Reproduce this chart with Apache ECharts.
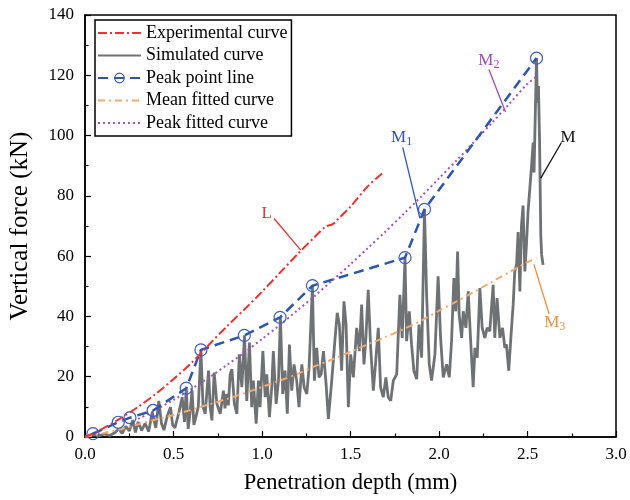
<!DOCTYPE html>
<html>
<head>
<meta charset="utf-8">
<script src="https://cdn.jsdelivr.net/npm/echarts@6/dist/echarts.min.js"></script>
<style>html,body{margin:0;padding:0;background:#fff}#c{width:630px;height:500px}</style>
</head>
<body>
<div id="c"></div>
<script>
// ---- data (mm, kN) ----
const expX = [0, 0.1, 0.2, 0.3, 0.4, 0.5, 0.6, 0.65, 0.7, 0.8, 0.9, 1.0, 1.1, 1.2, 1.3, 1.36, 1.40, 1.43, 1.5, 1.6, 1.69];
const expY = [0, 2.8, 6.2, 10.0, 14.3, 19.2, 24.5, 27.5, 30.6, 36.6, 42.3, 48.2, 54.4, 60.6, 66.5, 69.8, 70.6, 72.3, 76.4, 83.3, 88.0];

const simX = [0, 0.02, 0.05, 0.08, 0.11, 0.14, 0.17, 0.19, 0.21, 0.23, 0.25, 0.27, 0.285, 0.30, 0.32, 0.34, 0.36, 0.38, 0.40, 0.417,
  0.432, 0.446, 0.465, 0.483, 0.495, 0.508, 0.53, 0.549, 0.562, 0.572, 0.583, 0.595, 0.605, 0.615, 0.624, 0.64, 0.655, 0.667, 0.679, 0.698,
  0.707, 0.717, 0.730, 0.745, 0.764, 0.782, 0.791, 0.801, 0.810, 0.820, 0.830, 0.844, 0.858, 0.872, 0.886, 0.901, 0.914, 0.929, 0.942, 0.951,
  0.967, 0.980, 0.989, 1.005, 1.018, 1.027, 1.042, 1.055, 1.064, 1.080, 1.093, 1.104, 1.117, 1.130, 1.143, 1.155, 1.168, 1.181, 1.196, 1.209,
  1.225, 1.238, 1.253, 1.266, 1.285, 1.296, 1.309, 1.322, 1.334, 1.347, 1.362, 1.375, 1.394, 1.413, 1.425, 1.437, 1.450, 1.463, 1.475, 1.488,
  1.501, 1.516, 1.535, 1.550, 1.563, 1.576, 1.587, 1.600, 1.614, 1.629, 1.644, 1.657, 1.670, 1.685, 1.700, 1.713, 1.727, 1.742, 1.761, 1.779,
  1.792, 1.808, 1.817, 1.832, 1.845, 1.858, 1.874, 1.887, 1.902, 1.918, 1.930, 1.945, 1.958, 1.977, 1.995, 2.009, 2.024, 2.043, 2.058, 2.071,
  2.084, 2.095, 2.105, 2.114, 2.128, 2.137, 2.152, 2.165, 2.178, 2.193, 2.203, 2.216, 2.231, 2.244, 2.259, 2.272, 2.287, 2.306, 2.315, 2.328,
  2.344, 2.359, 2.372, 2.381, 2.394, 2.406, 2.419, 2.428, 2.438, 2.447, 2.457, 2.466, 2.475, 2.485, 2.494, 2.503, 2.513, 2.523, 2.532, 2.537,
  2.545, 2.551, 2.556, 2.562, 2.568, 2.571, 2.575, 2.580, 2.588];
const simY = [0, 0.3, 0.8, 0.4, 1.0, 0.5, 1.5, 2.7, 1.2, 3.5, 2.0, 5.6, 1.5, 5.0, 2.2, 4.5, 1.8, 8.2, 3.0, 12.0,
  4.5, 2.3, 7.0, 9.9, 4.0, 3.0, 8.0, 13.2, 5.0, 16.2, 2.7, 9.0, 15.5, 4.0, 6.0, 10.0, 28.9, 9.9, 7.7, 22.0,
  10.0, 5.5, 21.4, 11.0, 7.7, 15.4, 9.5, 14.3, 10.5, 20.8, 22.5, 11.0, 7.7, 27.4, 16.5, 33.7, 12.0, 31.3, 9.9, 18.7,
  4.4, 18.7, 9.9, 28.5, 13.2, 20.8, 6.6, 16.5, 28.5, 11.0, 18.7, 39.7, 14.3, 22.0, 7.7, 30.7, 15.4, 24.1, 18.7, 9.9,
  24.1, 16.5, 14.3, 23.0, 50.2, 18.7, 29.6, 19.8, 20.8, 28.5, 17.6, 6.0, 18.7, 32.9, 41.2, 37.3, 22.0, 45.0, 37.3, 9.9,
  27.4, 19.8, 36.2, 28.5, 43.9, 24.1, 32.9, 48.8, 29.6, 15.4, 26.3, 36.2, 16.5, 13.2, 19.8, 13.2, 12.0, 18.7, 20.8, 47.2,
  32.9, 59.5, 31.8, 41.7, 30.7, 22.0, 19.2, 37.3, 26.3, 75.5, 47.2, 24.1, 18.7, 27.4, 53.3, 32.9, 19.8, 24.1, 19.8, 31.8,
  52.7, 41.7, 61.5, 40.6, 32.9, 41.7, 36.2, 48.3, 32.9, 16.5, 29.6, 26.3, 49.4, 36.2, 32.9, 36.2, 35.1, 50.5, 32.9, 46.1,
  32.9, 36.2, 29.6, 30.7, 22.0, 32.9, 43.9, 54.9, 57.1, 68.0, 48.3, 70.3, 76.8, 54.9, 63.7, 74.7, 82.3, 90.0, 97.7, 87.8,
  109.8, 125.7, 110.9, 116.4, 98.8, 85.6, 67.0, 60.4, 57.1];

const peakX = [0.045, 0.188, 0.254, 0.385, 0.572, 0.655, 0.900, 1.102, 1.285, 1.808, 1.918, 2.551];
const peakY = [1.1, 4.9, 6.4, 8.8, 16.2, 28.9, 33.7, 39.7, 50.2, 59.5, 75.5, 125.7];

const meanX = [0, 0.1, 0.2, 0.3, 0.4, 0.5, 0.6, 0.7, 0.8, 0.9, 1.0, 1.1, 1.2, 1.3, 1.4, 1.5, 1.6, 1.7, 1.8, 1.9, 2.0, 2.1, 2.2, 2.3, 2.4, 2.5, 2.55];
const meanY = [0, 1.2, 2.6, 4.2, 5.8, 7.3, 9.0, 10.8, 12.6, 14.5, 16.6, 18.7, 20.9, 23.5, 25.8, 28.3, 30.8, 33.2, 35.8, 38.6, 41.9, 45.0, 48.2, 51.5, 54.8, 58.0, 59.3];

const pfitX = [0.30, 0.4, 0.5, 0.6, 0.7, 0.8, 0.9, 1.0, 1.1, 1.2, 1.3, 1.4, 1.5, 1.6, 1.7, 1.8, 1.9, 2.0, 2.1, 2.2, 2.3, 2.4, 2.5, 2.55];
const pfitY = [6.0, 9.0, 12.3, 15.9, 19.7, 23.8, 28.0, 32.5, 37.1, 42.0, 46.9, 52.1, 57.3, 62.8, 68.3, 74.0, 79.8, 85.8, 91.8, 98.0, 104.3, 110.7, 117.2, 119.5];

const seriesNames = ['Experimental curve', 'Simulated curve', 'Peak point line', 'Mean fitted curve', 'Peak fitted curve'];

// annotation labels: [text, sub, labelX, labelY, fromX, fromY, toX, toY, color]
const notes = [
  ['L', '', 1.027, 74.1, 1.068, 72.5, 1.219, 62.0, '#ee3030'],
  ['M', '1', 1.789, 99.4, 1.795, 96.1, 1.892, 72.5, '#2f55b5'],
  ['M', '2', 2.282, 124.8, 2.282, 121.9, 2.376, 107.8, '#a24ab4'],
  ['M', '', 2.729, 99.4, 2.692, 97.7, 2.575, 85.9, '#111111'],
  ['M', '3', 2.654, 37.9, 2.536, 57.3, 2.622, 40.8, '#f0913a']
];

const zip = (xs, ys) => xs.map((x, i) => [x, ys[i]]);
const FONT = '"Liberation Serif", "Times New Roman", serif';
const hidden = {opacity: 0};

const chart = echarts.init(document.getElementById('c'), null, {renderer: 'canvas'});
const option = {
  animation: false,
  backgroundColor: '#fff',
  grid: {left: 85, right: 14, top: 15, bottom: 60, show: true, borderColor: '#000', borderWidth: 1.5, backgroundColor: 'transparent'},
  legend: {
    data: [
      {name: seriesNames[0], itemStyle: hidden},
      {name: seriesNames[1], itemStyle: hidden},
      {name: seriesNames[2], itemStyle: {color: 'rgba(255,255,255,0)', borderColor: '#3a5ccc', borderWidth: 1.2}},
      {name: seriesNames[3], itemStyle: hidden},
      {name: seriesNames[4], itemStyle: hidden}
    ],
    orient: 'vertical',
    left: 95, top: 20,
    itemWidth: 43, itemHeight: 12, itemGap: 4.5, itemTextGap: 5,
    padding: [4, 4, 4, 2],
    borderColor: '#000', borderWidth: 1.5,
    textStyle: {fontFamily: FONT, fontSize: 18, color: '#000'}
  },
  xAxis: {
    type: 'value', min: 0, max: 3, interval: 0.5,
    name: 'Penetration depth (mm)', nameLocation: 'middle', nameGap: 35,
    nameTextStyle: {fontFamily: FONT, fontSize: 22.5, color: '#000'},
    axisLine: {show: true, lineStyle: {color: '#000', width: 1.5}},
    axisTick: {show: true, inside: true, length: 6, lineStyle: {color: '#000', width: 1.2}},
    minorTick: {show: true, splitNumber: 2, length: 3.5, lineStyle: {color: '#000', width: 1.2}},
    splitLine: {show: false},
    axisLabel: {fontFamily: FONT, fontSize: 17, color: '#000', margin: 9, formatter: v => v.toFixed(1)}
  },
  yAxis: {
    type: 'value', min: 0, max: 140, interval: 20,
    name: 'Vertical force (kN)', nameLocation: 'middle', nameGap: 52,
    nameTextStyle: {fontFamily: FONT, fontSize: 25, color: '#000'},
    axisLine: {show: true, lineStyle: {color: '#000', width: 1.5}},
    axisTick: {show: true, inside: true, length: 6, lineStyle: {color: '#000', width: 1.2}},
    minorTick: {show: true, splitNumber: 2, length: 3.5, lineStyle: {color: '#000', width: 1.2}},
    splitLine: {show: false},
    axisLabel: {fontFamily: FONT, fontSize: 17, color: '#000', margin: 11}
  },
  series: [
    {name: seriesNames[0], type: 'line', z: 6, symbol: 'none', data: zip(expX, expY), smooth: 0.3,
      lineStyle: {color: '#ee3030', width: 2, type: [9, 3, 2, 3]}, itemStyle: {color: '#ee3030'}},
    {name: seriesNames[1], type: 'line', z: 2, symbol: 'none', data: zip(simX, simY),
      lineStyle: {color: '#6f7275', width: 2.8}, itemStyle: {color: '#6f7275'}},
    {name: seriesNames[2], type: 'line', z: 5, symbol: 'circle', symbolSize: 12, data: zip(peakX, peakY),
      lineStyle: {color: '#2a55b0', width: 2.5, type: [10, 6]},
      itemStyle: {color: 'rgba(255,255,255,0)', borderColor: '#3a5ccc', borderWidth: 1.2}},
    {name: seriesNames[3], type: 'line', z: 3, symbol: 'none', data: zip(meanX, meanY), smooth: 0.3,
      lineStyle: {color: '#f5a96a', width: 2, type: [7, 4, 2, 4]}, itemStyle: {color: '#f5a96a'}},
    {name: seriesNames[4], type: 'line', z: 4, symbol: 'none', data: zip(pfitX, pfitY), smooth: 0.3,
      lineStyle: {color: '#a552c2', width: 2, type: [2, 3]}, itemStyle: {color: '#a552c2'}}
  ]
};
chart.setOption(option);

const gfx = [];
notes.forEach(n => {
  const [t, sub, lx, ly, fx, fy, tx, ty, col] = n;
  const p = chart.convertToPixel({gridIndex: 0}, [lx, ly]);
  const a = chart.convertToPixel({gridIndex: 0}, [fx, fy]);
  const b = chart.convertToPixel({gridIndex: 0}, [tx, ty]);
  gfx.push({type: 'line', z: 20, shape: {x1: a[0], y1: a[1], x2: b[0], y2: b[1]}, style: {stroke: col, lineWidth: 1.3}});
  gfx.push({type: 'text', z: 20, x: p[0], y: p[1], style: {
    text: sub ? '{m|' + t + '}{s|' + sub + '}' : '{m|' + t + '}',
    align: 'center', verticalAlign: 'middle',
    rich: {m: {fontFamily: FONT, fontSize: 17, fill: col, color: col}, s: {fontFamily: FONT, fontSize: 12, fill: col, color: col, padding: [9, 0, 0, 0]}}
  }});
});
chart.setOption({graphic: gfx});
</script>
</body>
</html>
